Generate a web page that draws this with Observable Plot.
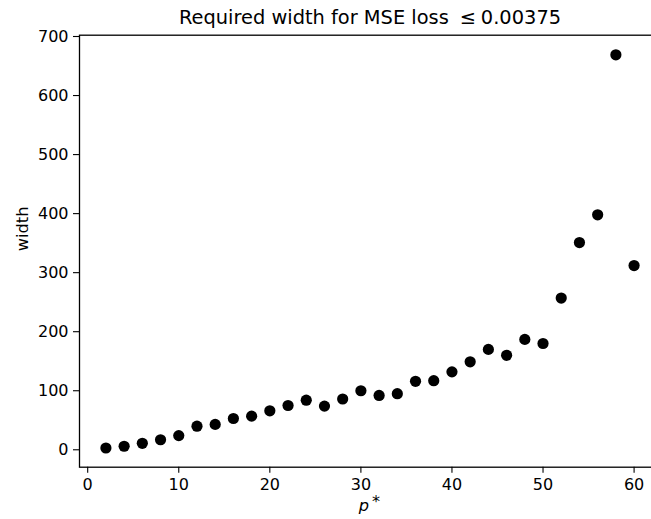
<!DOCTYPE html>
<html>
<head>
<meta charset="utf-8">
<script src="https://cdn.jsdelivr.net/npm/d3@7"></script>
<script src="https://cdn.jsdelivr.net/npm/@observablehq/plot@0.6"></script>
<style>
  html, body { margin: 0; padding: 0; overflow: hidden; background: #fff; }
  #chart { width: 651px; height: 519px; overflow: hidden; }
  #chart svg { display: block; max-width: none !important; width: 661px !important; height: 519px !important; }
</style>
</head>
<body>
<div id="chart"></div>
<script>
const pStar = [2,4,6,8,10,12,14,16,18,20,22,24,26,28,30,32,34,36,38,40,42,44,46,48,50,52,54,56,58,60];
const widthValues = [3,6,11,17,24,40,43,53,57,66,75,84,74,86,100,92,95,116,117,132,149,170,160,187,180,257,351,398,669,312];
const xTicks = [0,10,20,30,40,50,60];
const yTicks = [0,100,200,300,400,500,600,700];
const titleText = "Required width for MSE loss \u2005\u2264\u20050.00375";
const yLabel = "width";

const data = pStar.map((p, i) => ({p, w: widthValues[i]}));
const font = "DejaVu Sans, sans-serif";

const chart = Plot.plot({
  width: 661,
  height: 519,
  marginLeft: 79,
  marginRight: 1,
  marginTop: 34.7,
  marginBottom: 52.3,
  style: {fontFamily: font, color: "black", background: "white", overflow: "visible", maxWidth: "none"},
  x: {domain: [-0.9, 62.9]},
  y: {domain: [-29.5, 702.2]},
  marks: [
    Plot.axisX({ticks: xTicks, tickSize: 6, tickPadding: 5, fontSize: 16, label: null, stroke: "black", strokeWidth: 1.1}),
    Plot.axisY({ticks: yTicks, tickSize: 6, tickPadding: 5, fontSize: 16, label: null, stroke: "black", strokeWidth: 1.1}),
    Plot.frame({stroke: "black", strokeWidth: 1.3}),
    Plot.dot(data, {x: "p", y: "w", r: 5.6, fill: "black", stroke: "none"}),
    Plot.text([titleText], {frameAnchor: "top", text: d => d, dy: -17, fontSize: 19.4, fill: "black", lineAnchor: "middle"}),
    Plot.text(["p"], {frameAnchor: "bottom", text: d => d, dx: -6, dy: 44, fontSize: 16.2, fontStyle: "italic", fill: "black"}),
    Plot.text(["*"], {frameAnchor: "bottom", text: d => d, dx: 6, dy: 40, fontSize: 16.2, fill: "black"}),
    Plot.text([yLabel], {frameAnchor: "left", text: d => d, dx: -57, rotate: -90, fontSize: 16.2, fill: "black"})
  ]
});
document.getElementById("chart").appendChild(chart);
</script>
</body>
</html>
